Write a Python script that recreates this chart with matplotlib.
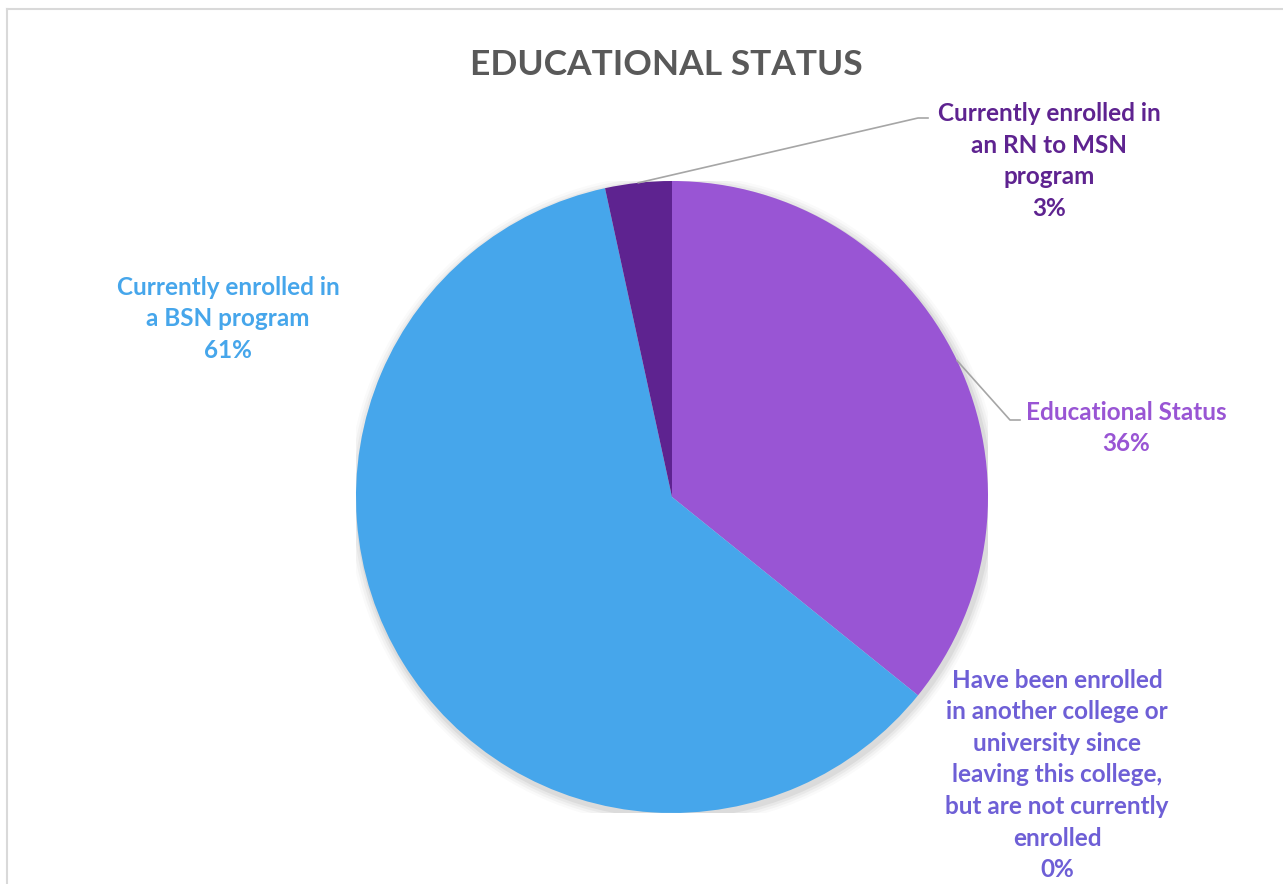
import matplotlib.pyplot as plt
import numpy as np
from matplotlib.patches import Circle
from matplotlib.lines import Line2D

# data
categories = ["Educational Status",
              "Have been enrolled\nin another college or\nuniversity since\nleaving this college,\nbut are not currently\nenrolled",
              "Currently enrolled in\na BSN program",
              "Currently enrolled in\nan RN to MSN\nprogram"]
shares = [35.8, 0.0, 60.8, 3.4]
colors = ["#9955D4", "#6E5FD6", "#46A6EB", "#5E2390"]
label_colors = ["#9955D4", "#6E5FD6", "#46A6EB", "#5E2390"]

W, H = 1283, 884
fig = plt.figure(figsize=(W / 100, H / 100), dpi=100)
plt.rcParams['font.family'] = ['Lato', 'DejaVu Sans']

cx, cy, R = 672, 497, 316
ax = fig.add_axes([(cx - R) / W, (H - cy - R) / H, 2 * R / W, 2 * R / H])

# soft shadow
for i, a in enumerate([0.05, 0.04, 0.03, 0.02]):
    ax.add_patch(Circle((0.006, -0.01), 1 + 0.008 * (i + 1), color="black", alpha=a, lw=0, zorder=0))

wedges, _ = ax.pie(shares, colors=colors, startangle=90, counterclock=False,
                   radius=1, wedgeprops=dict(linewidth=0))
for w in wedges:
    w.set_zorder(2)
ax.set_xlim(-1, 1)
ax.set_ylim(-1, 1)
ax.axis("off")


def to_data(px, py):
    return (px - cx) / R, (cy - py) / R


# label positions (pixel centers) and optional leader line elbows
label_pos = [(1126, 428), (1057, 775), (228, 319), (1049, 161)]
elbows = [[(1010, 420), (1020, 420)], None, None, [(918, 118), (928, 118)]]

for w, cat, val, col, pos, elb in zip(wedges, categories, shares, label_colors, label_pos, elbows):
    x, y = to_data(*pos)
    ax.text(x, y, f"{cat}\n{val:.0f}%", color=col, fontsize=17.5, fontweight="bold",
            ha="center", va="center", linespacing=1.45, clip_on=False, zorder=5)
    if elb:
        mid = np.deg2rad((w.theta1 + w.theta2) / 2)
        xs = [np.cos(mid)] + [to_data(*p)[0] for p in elb]
        ys = [np.sin(mid)] + [to_data(*p)[1] for p in elb]
        ax.add_line(Line2D(xs, ys, color="#A6A6A6", lw=1.2, clip_on=False, zorder=4))

fig.text(666 / W, 1 - 65 / H, "EDUCATIONAL STATUS", ha="center", va="center",
         fontsize=25.5, fontweight="bold", color="#595959")

# chart border
fig.add_artist(Line2D([7 / W, 7 / W], [0, 1 - 9 / H], color="#D9D9D9", lw=1.5))
fig.add_artist(Line2D([7 / W, 1], [1 - 9 / H, 1 - 9 / H], color="#D9D9D9", lw=1.5))

fig.savefig("out.png", dpi=100, facecolor="white")
